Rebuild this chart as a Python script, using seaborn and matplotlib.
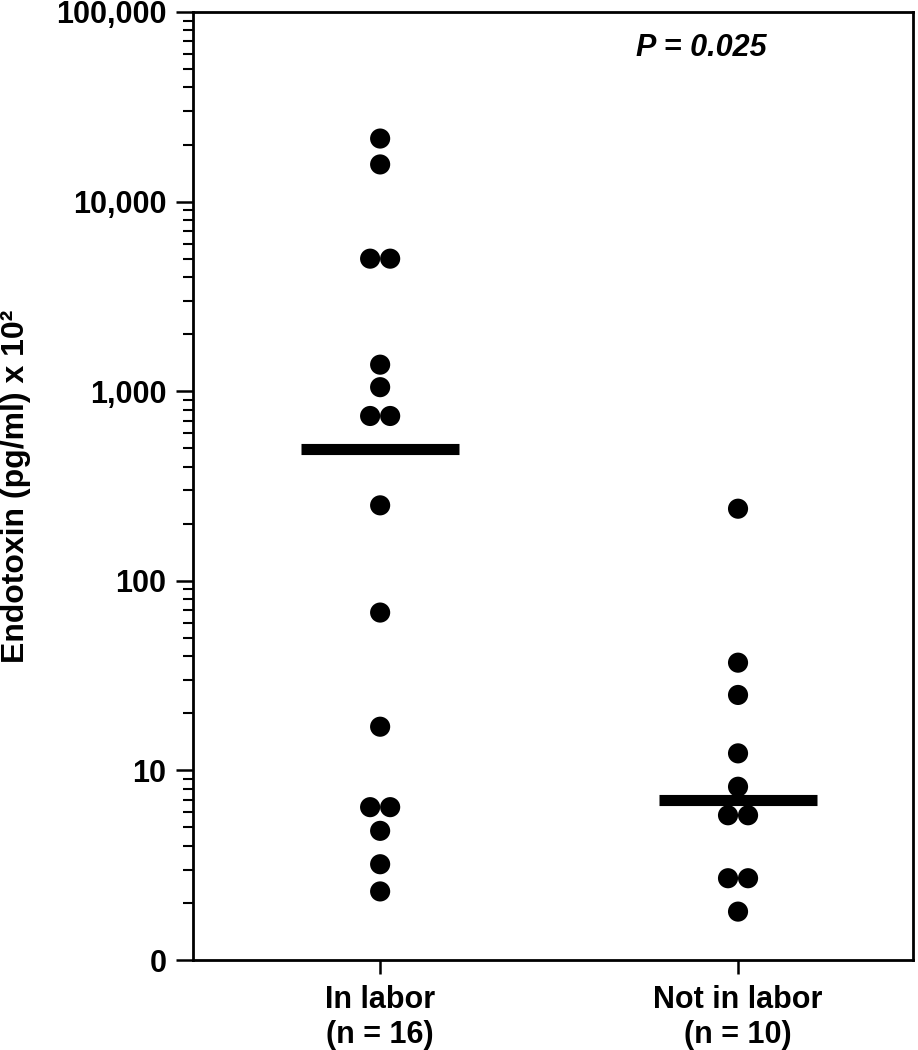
import numpy as np
import pandas as pd
import matplotlib
matplotlib.use("Agg")
import matplotlib.pyplot as plt
import seaborn as sns
from matplotlib.ticker import FixedLocator, LogLocator, NullFormatter

# ---- data ----
categories = ["In labor\n(n = 16)", "Not in labor\n(n = 10)"]
in_labor = [21500, 15700, 5000, 5000, 1380, 1050, 740, 740, 250, 68, 17,
            6.4, 6.4, 4.8, 3.2, 2.3]
not_in_labor = [240, 37, 25, 12.3, 8.2, 5.8, 5.8, 2.7, 2.7, 1.8]
ytick_values = [1, 10, 100, 1000, 10000, 100000]
ytick_labels = ["0", "10", "100", "1,000", "10,000", "100,000"]
p_text = "P = 0.025"
ylabel = "Endotoxin (pg/ml) x 10²"

# ---- style ----
sns.set_style("ticks")
plt.rcParams["font.family"] = ["Liberation Sans", "DejaVu Sans"]
plt.rcParams["font.weight"] = "bold"
plt.rcParams["text.color"] = "black"
plt.rcParams["axes.labelcolor"] = "black"
plt.rcParams["xtick.color"] = "black"
plt.rcParams["ytick.color"] = "black"

df = pd.DataFrame({
    "group": [categories[0]] * len(in_labor) + [categories[1]] * len(not_in_labor),
    "value": in_labor + not_in_labor,
})
df["gidx"] = df["group"].map({c: i for i, c in enumerate(categories)})
# side-by-side placement for tied values
dot_step = 0.056
df["rank"] = df.groupby(["group", "value"]).cumcount()
df["n"] = df.groupby(["group", "value"])["value"].transform("size")
df["xpos"] = df["gidx"] + (df["rank"] - (df["n"] - 1) / 2) * dot_step

fig = plt.figure(figsize=(9.18, 10.5), dpi=100)
ax = fig.add_axes([0.2102, 0.0857, 0.7844, 0.9029])

sns.scatterplot(data=df, x="xpos", y="value", s=210, color="black",
                edgecolor="none", linewidth=0, legend=False, ax=ax, zorder=3)

medians = df.groupby("gidx")["value"].median()
ax.hlines(medians.values, medians.index - 0.22, medians.index + 0.22,
          colors="black", linewidth=8, zorder=4)

ax.set_yscale("log")
ax.set_ylim(ytick_values[0], ytick_values[-1])
ax.set_xlim(-0.523, 1.489)
ax.yaxis.set_major_locator(FixedLocator(ytick_values))
ax.set_yticklabels(ytick_labels)
ax.yaxis.set_minor_locator(LogLocator(base=10, subs=np.arange(2, 10)))
ax.yaxis.set_minor_formatter(NullFormatter())
ax.set_xticks(range(len(categories)))
ax.set_xticklabels(categories)

for s in ax.spines.values():
    s.set_linewidth(2)
    s.set_color("black")

ax.tick_params(axis="y", which="major", length=12, width=1.8, pad=7,
               labelsize=22, left=True, right=False, direction="out",
               colors="black")
ax.tick_params(axis="y", which="minor", length=7, width=1.5, left=True,
               right=False, direction="out", colors="black")
ax.tick_params(axis="x", which="major", length=10, width=1.8, pad=8,
               labelsize=22, top=False, bottom=True, direction="out",
               colors="black")

for lab in ax.get_xticklabels() + ax.get_yticklabels():
    lab.set_fontweight("bold")
    lab.set_color("black")

ax.set_xlabel("")
ax.set_ylabel(ylabel, fontsize=23, fontweight="bold", color="black")
ax.yaxis.set_label_coords(-0.225, 0.5)

ax.text(0.706, 0.962, p_text, transform=ax.transAxes, ha="center",
        va="center", fontsize=22, fontweight="bold", fontstyle="italic",
        color="black")

fig.savefig("out.png", dpi=100, facecolor="white")
